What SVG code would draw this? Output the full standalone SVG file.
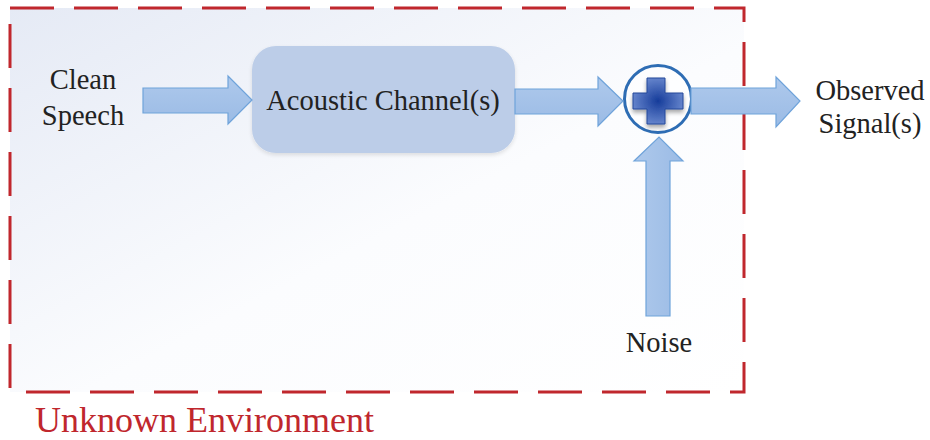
<svg xmlns="http://www.w3.org/2000/svg" width="930" height="440" viewBox="0 0 930 440">
  <defs>
    <linearGradient id="bg" x1="0" y1="0" x2="1" y2="1">
      <stop offset="0" stop-color="#e5eaf5"/>
      <stop offset="0.55" stop-color="#fbfcfe"/>
      <stop offset="1" stop-color="#ffffff"/>
    </linearGradient>
    <linearGradient id="arr" x1="0" y1="0" x2="0" y2="1">
      <stop offset="0" stop-color="#aec9ec"/>
      <stop offset="1" stop-color="#9bbbe5"/>
    </linearGradient>
    <linearGradient id="arrv" x1="0" y1="0" x2="1" y2="0">
      <stop offset="0" stop-color="#aec9ec"/>
      <stop offset="1" stop-color="#9bbbe5"/>
    </linearGradient>
    <radialGradient id="cross" cx="0.5" cy="0.5" r="0.55">
      <stop offset="0" stop-color="#163c9a"/>
      <stop offset="1" stop-color="#6b8ad0"/>
    </radialGradient>
    <filter id="sh" x="-20%" y="-20%" width="140%" height="150%">
      <feGaussianBlur in="SourceAlpha" stdDeviation="2"/>
      <feOffset dx="0" dy="3" result="b"/>
      <feComponentTransfer><feFuncA type="linear" slope="0.35"/></feComponentTransfer>
      <feMerge><feMergeNode/><feMergeNode in="SourceGraphic"/></feMerge>
    </filter>
    <filter id="boxsh" x="-10%" y="-10%" width="120%" height="130%">
      <feGaussianBlur in="SourceAlpha" stdDeviation="2"/>
      <feOffset dx="0" dy="2"/>
      <feComponentTransfer><feFuncA type="linear" slope="0.12"/></feComponentTransfer>
      <feMerge><feMergeNode/><feMergeNode in="SourceGraphic"/></feMerge>
    </filter>
  </defs>
  <style>
    .t { font-family: "Liberation Serif", "Times New Roman", serif; fill: #222222; font-size: 28.5px; }
    .red { font-family: "Liberation Serif", "Times New Roman", serif; fill: #c0272d; font-size: 36px; }
    .arrow { fill: url(#arr); stroke: #6fa3da; stroke-width: 1.2; }
    .arrowv { fill: url(#arrv); stroke: #6fa3da; stroke-width: 1.2; }
  </style>
  <rect width="930" height="440" fill="#ffffff"/>

  <g id="environment">
    <rect x="10" y="8" width="734" height="384" fill="url(#bg)"/>
    <rect x="10" y="8" width="734" height="384" fill="none" stroke="#c0272d" stroke-width="3" stroke-dasharray="44 20"/>
    <text class="red" x="35" y="432">Unknown Environment</text>
  </g>

  <g id="clean-speech">
    <text class="t" x="83" y="89" text-anchor="middle">Clean</text>
    <text class="t" x="83" y="125" text-anchor="middle">Speech</text>
  </g>

  <g id="acoustic-channel">
    <rect x="252" y="46" width="263" height="107" rx="24" fill="#bccde8" filter="url(#boxsh)"/>
    <text class="t" x="383" y="110" text-anchor="middle">Acoustic Channel(s)</text>
  </g>

  <g id="adder">
    <circle cx="658" cy="99" r="33.5" fill="#ffffff" fill-opacity="0.6" stroke="#2e6db4" stroke-width="3"/>
    <path d="M647 78 H665 V93 H683 V109 H665 V124 H647 V109 H633 V93 H647 Z" fill="url(#cross)" stroke="#24489a" stroke-width="1" filter="url(#sh)"/>
  </g>

  <g id="noise">
    <text class="t" x="659" y="352" text-anchor="middle">Noise</text>
  </g>

  <g id="observed-signal">
    <text class="t" x="870" y="100" text-anchor="middle">Observed</text>
    <text class="t" x="870" y="133" text-anchor="middle">Signal(s)</text>
  </g>

  <g id="connectors">
    <path class="arrow" d="M143 88 H228 V76 L252 100 L228 124 V113 H143 Z"/>
    <path class="arrow" d="M515 89 H598 V77 L623 101 L598 126 V114 H515 Z"/>
    <path class="arrow" d="M691 88 H776 V77 L800 101 L776 127 V114 H691 Z"/>
    <path class="arrowv" d="M646 316 V161 H634 L659 137 L683 161 H670 V316 Z"/>
  </g>
</svg>
